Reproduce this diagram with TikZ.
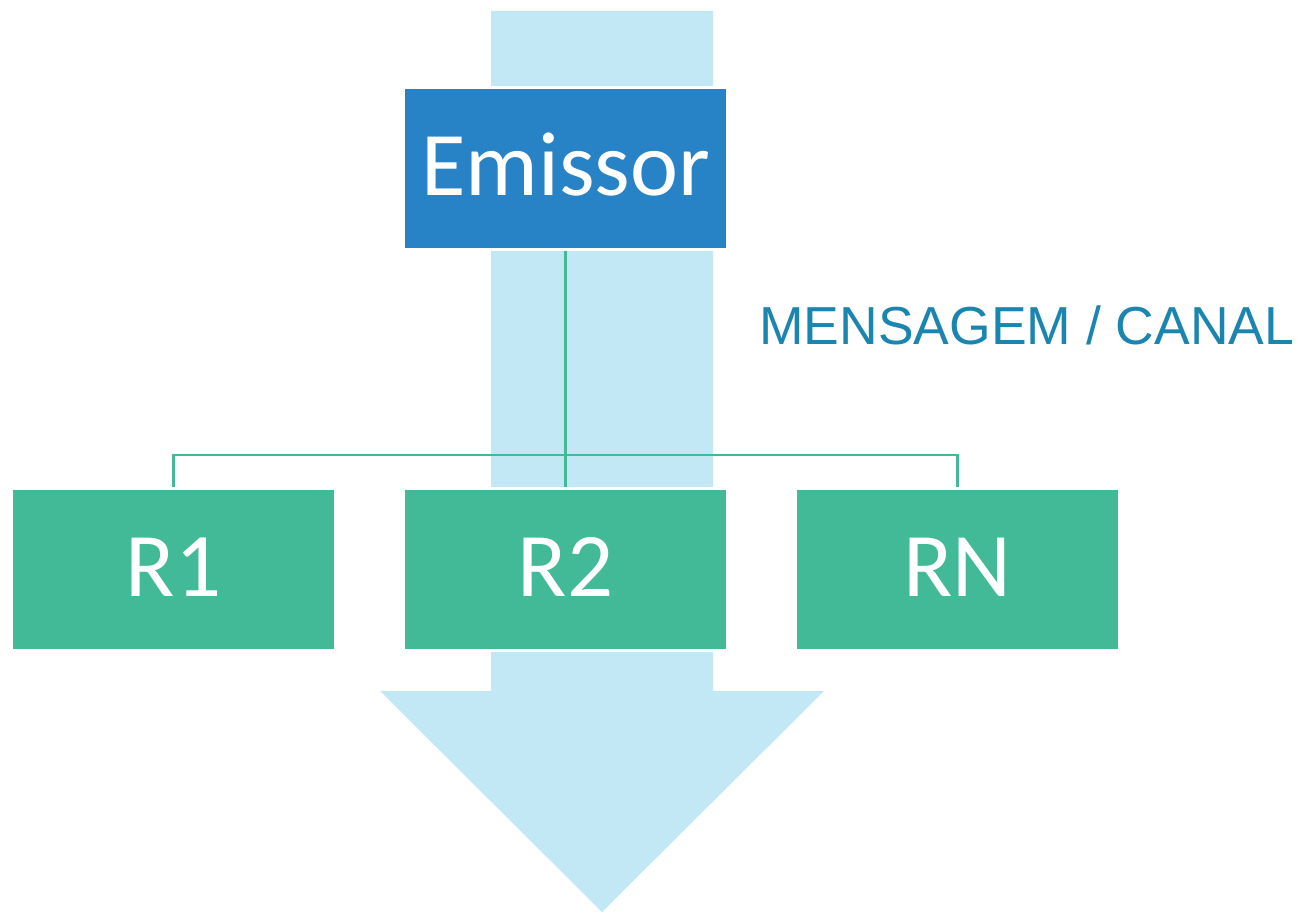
\documentclass[tikz,border=0pt]{standalone}
\usepackage{fontspec}
\setmainfont{Carlito}
\newfontfamily\arialfont{Liberation Sans}
\definecolor{lblue}{HTML}{C2E8F6}
\definecolor{dblue}{HTML}{2783C6}
\definecolor{rgreen}{HTML}{43BA97}
\definecolor{txtblue}{HTML}{1A86B0}
\tikzset{
  box/.style={draw=white, line width=3pt, minimum width=324pt, minimum height=162pt, inner sep=0pt, text height=54pt, text depth=0pt, text=white, font=\fontsize{91}{91}\selectfont},
  conn/.style={draw=rgreen, line width=2.6pt},
}
\begin{document}
\begin{tikzpicture}[x=1pt,y=-1pt]
\useasboundingbox (0,0) rectangle (1299,912);
% big arrow
\fill[lblue] (491,11) -- (713,11) -- (713,691) -- (824,691) -- (602,912) -- (380,691) -- (491,691) -- cycle;
% boxes
\node[box, fill=dblue] (E) at (565.5,168.5) {Emissor};
\node[box, fill=rgreen] (R1) at (173.5,569) {R1};
\node[box, fill=rgreen] (R2) at (565.5,569) {R2};
\node[box, fill=rgreen] (RN) at (957.5,569) {RN};
% connectors
\coordinate (hub) at (566,455);
\draw[conn] (E.south) -- (R2.north);
\draw[conn] (R1.north) |- (hub) -| (RN.north);
% label
\node[anchor=base west, inner sep=0pt, text=txtblue, font=\arialfont\fontsize{53.5}{53.5}\selectfont] (lab) at (759,344) {MENSAGEM / CANAL};
\end{tikzpicture}
\end{document}
